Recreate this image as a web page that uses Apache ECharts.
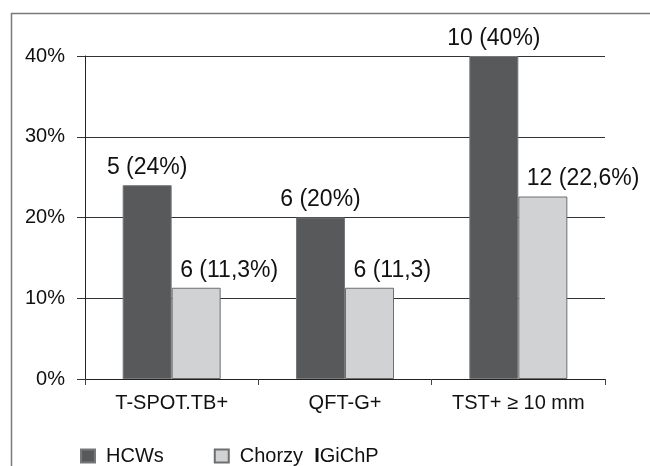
<!DOCTYPE html>
<html>
<head>
<meta charset="utf-8">
<script src="https://cdn.jsdelivr.net/npm/echarts@6/dist/echarts.min.js"></script>
<style>html,body{margin:0;padding:0;background:#fff;}#c{width:650px;height:466px;}</style>
</head>
<body>
<div id="c"></div>
<script>
var categories = ['T-SPOT.TB+', 'QFT-G+', 'TST+ \u2265 10 mm'];
var seriesNames = ['HCWs', 'Chorzy IGiChP'];
var hcwValues = [24, 20, 40];
var hcwLabels = ['5 (24%)', '6 (20%)', '10 (40%)'];
var chorzyValues = [11.3, 11.3, 22.6];
var chorzyLabels = ['6 (11,3%)', '6 (11,3)', '12 (22,6%)'];
var yTicks = [0, 10, 20, 30, 40];

var FONT = '"Liberation Sans", Arial, sans-serif';
var chart = echarts.init(document.getElementById('c'), null, {renderer: 'canvas'});
chart.setOption({
  animation: false,
  backgroundColor: '#ffffff',
  textStyle: {fontFamily: FONT},
  graphic: [{
    type: 'rect', silent: true,
    shape: {x: 11.5, y: 13.5, width: 700, height: 500},
    style: {fill: 'none', stroke: '#7a7a7a', lineWidth: 1.5}
  }],
  grid: {left: 85, right: 45, top: 56, bottom: 87, containLabel: false},
  legend: {
    left: 75, top: 441,
    itemWidth: 14, itemHeight: 13, itemGap: 50,
    icon: 'rect',
    data: seriesNames,
    textStyle: {fontSize: 20, color: '#111', fontFamily: FONT, padding: [0, 0, 0, 6],
      rich: {b: {fontSize: 20, fontWeight: 'bold', color: '#111', fontFamily: FONT}}},
    formatter: function (n) { return n === 'Chorzy IGiChP' ? 'Chorzy  {b|I}GiChP' : n; }
  },
  xAxis: {
    type: 'category', data: categories,
    axisLine: {lineStyle: {color: '#222', width: 1}},
    axisTick: {show: true, length: 6, lineStyle: {color: '#444'}},
    axisLabel: {fontSize: 20, color: '#111', margin: 14, fontFamily: FONT}
  },
  yAxis: {
    type: 'value', min: yTicks[0], max: yTicks[yTicks.length - 1], interval: 10,
    axisLine: {show: true, lineStyle: {color: '#222', width: 1}},
    axisTick: {show: true, length: 8, lineStyle: {color: '#333'}},
    splitLine: {lineStyle: {color: '#333', width: 1}},
    axisLabel: {fontSize: 20, color: '#111', margin: 20, padding: [10, 0, 0, 0],
      fontFamily: FONT, formatter: '{value}%'}
  },
  series: [{
    name: seriesNames[0], type: 'bar', data: hcwValues,
    barWidth: 49, barGap: '0%',
    itemStyle: {color: '#58595b', borderColor: '#77787a', borderWidth: 1},
    label: {show: true, position: 'top', distance: 6, fontSize: 23, color: '#111', fontFamily: FONT,
      formatter: function (p) { return hcwLabels[p.dataIndex]; }}
  }, {
    name: seriesNames[1], type: 'bar', data: chorzyValues,
    barWidth: 49, barGap: '0%',
    itemStyle: {color: '#d1d2d4', borderColor: '#6e6e6e', borderWidth: 1},
    label: {show: true, position: 'top', distance: 6, fontSize: 23, color: '#111', fontFamily: FONT,
      align: 'left', offset: [-16, 0],
      formatter: function (p) { return chorzyLabels[p.dataIndex]; }}
  }]
});
</script>
</body>
</html>
